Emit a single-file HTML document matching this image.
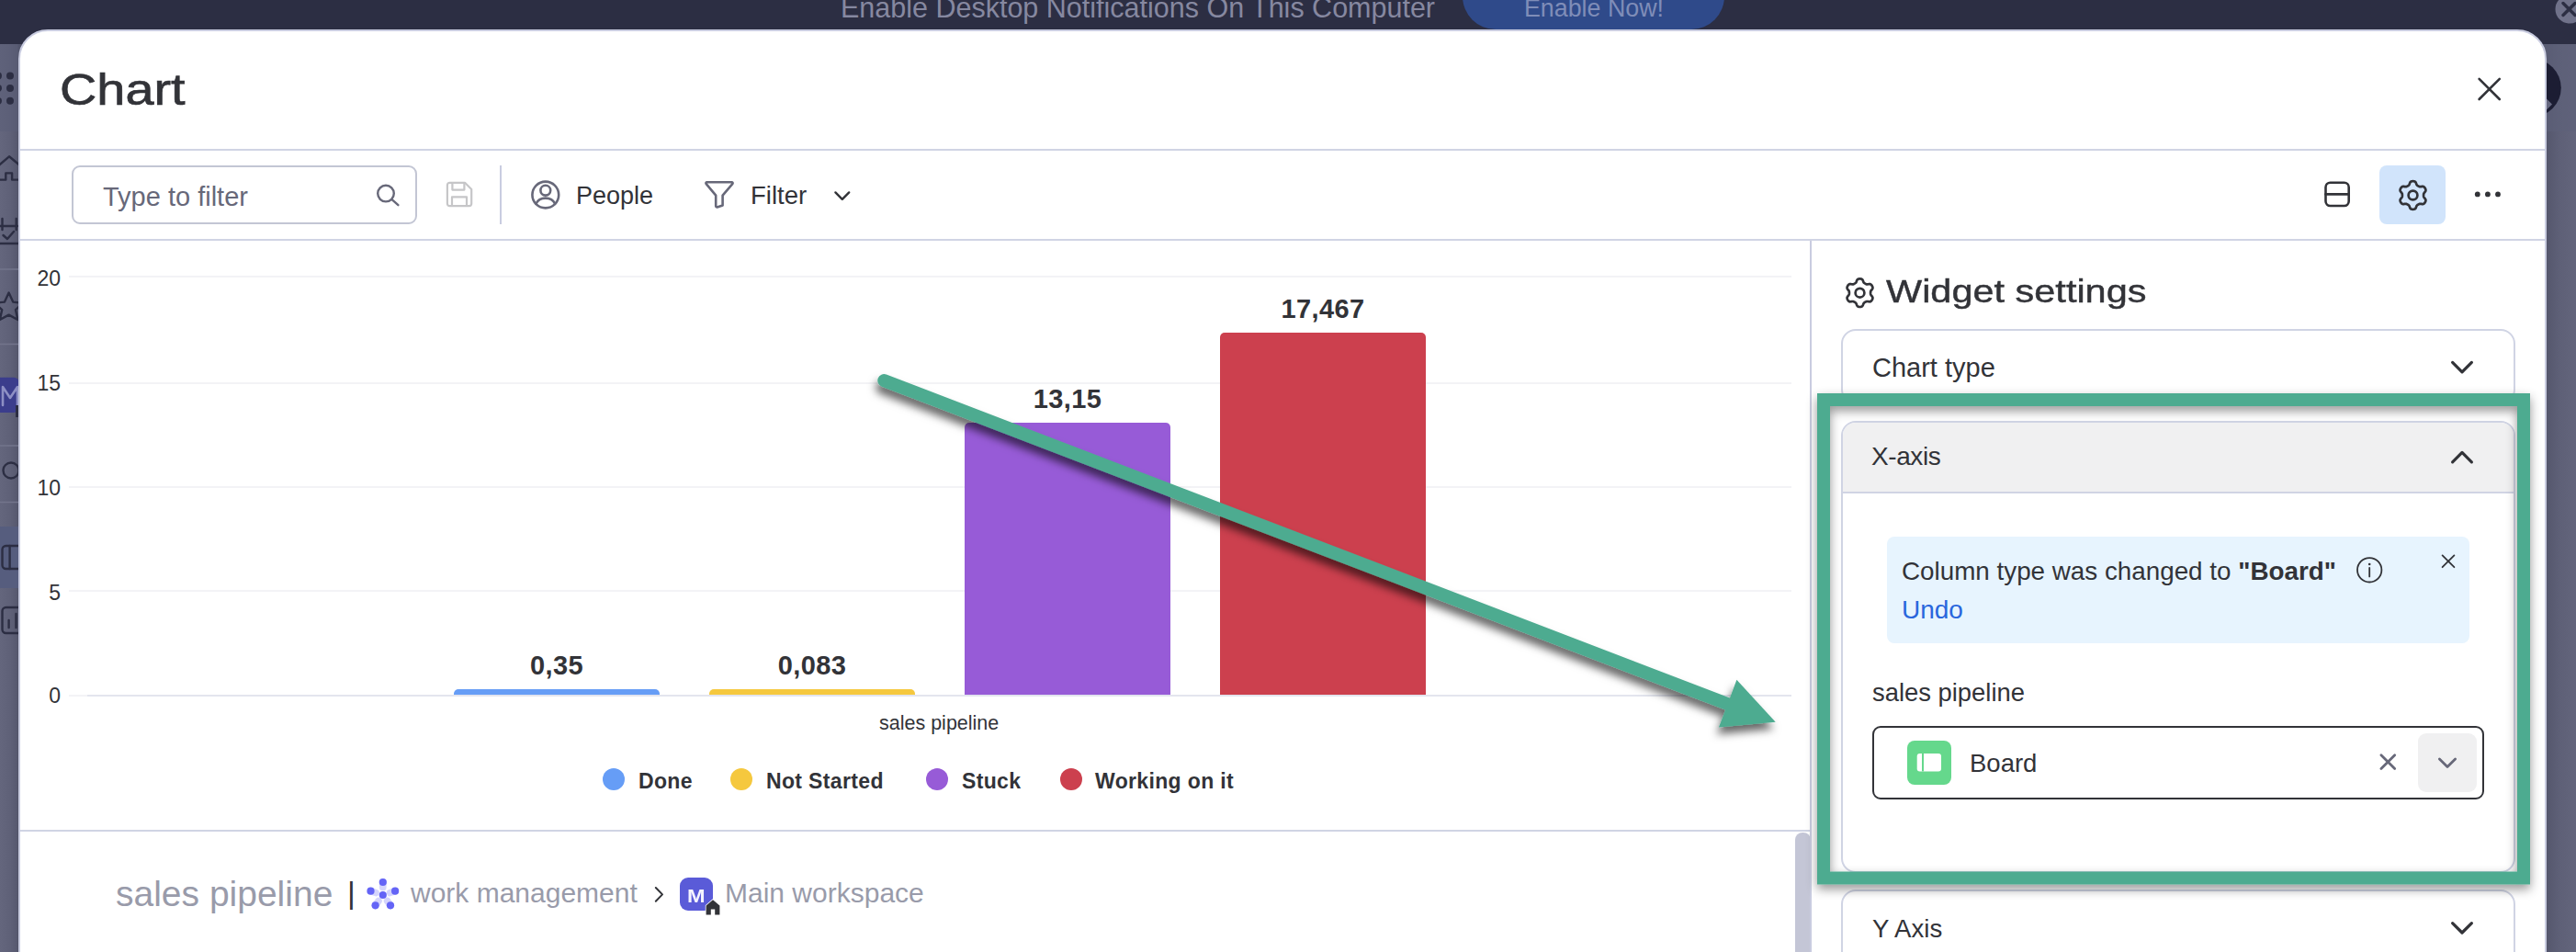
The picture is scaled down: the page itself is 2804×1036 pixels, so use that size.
<!DOCTYPE html>
<html lang="en">
<head>
<meta charset="utf-8">
<title>Chart</title>
<style>
*{box-sizing:border-box;margin:0;padding:0}
html,body{width:2804px;height:1036px;overflow:hidden}
body{position:relative;background:#5f6177;font-family:"Liberation Sans",sans-serif;color:#323338}
.t{position:absolute;white-space:nowrap;line-height:1}
.abs{position:absolute}
svg{position:absolute;overflow:visible}
/* background page (dimmed) */
#bgside-l{left:0;top:48px;width:24px;height:988px;background:linear-gradient(90deg,#64667d 0%,#5f6178 45%,#56586e 80%,#4a4c61 84%)}
#bgside-r{left:2768px;top:48px;width:36px;height:988px;background:linear-gradient(90deg,#55576d 0%,#55576d 11%,#5e6077 50%,#63657c 100%)}
#topbar{left:0;top:0;width:2804px;height:48px;background:#2c2e43}
#enablebtn{left:1592px;top:-40px;width:285px;height:72px;border-radius:36px;background:#2f4a8a}
/* modal */
#modal{left:20px;top:32px;width:2752px;height:1040px;background:#fff;border:2px solid #c9cce0;border-radius:32px 32px 0 0}
.hl{position:absolute;background:#d0d4e4}
.card{position:absolute;border:2px solid #d0d4e4;border-radius:16px;background:#fff}

.yl{left:24px;width:42px;text-align:right;font-size:23px;color:#323338}
.gl{position:absolute;left:75px;width:1875px;height:2px;background:#f3f3f6}
.bar{position:absolute;width:224px;border-radius:5px 5px 0 0}
.bl{width:224px;text-align:center;font-size:29px;letter-spacing:0.4px;font-weight:bold;color:#323338}
.dot{position:absolute;top:835.8px;width:24px;height:24px;border-radius:50%}
.lg{top:839.4px;font-size:23px;letter-spacing:0.35px;font-weight:bold;color:#323338}
</style>
</head>
<body>
<!-- dimmed page behind modal -->
<div class="abs" id="bgside-l"></div>
<div class="abs" id="bgside-r"></div>
<div class="abs" id="topbar"></div>
<div class="t" style="left:915px;top:-7px;font-size:30.5px;color:#8688a0">Enable Desktop Notifications On This Computer</div>
<div class="abs" id="enablebtn"></div>
<div class="t" style="left:1659px;top:-4px;font-size:26.8px;color:#7f8db8">Enable Now!</div>


<svg width="24" height="1036" style="left:0;top:0;overflow:hidden" fill="none" stroke="#2c2e43" stroke-width="2.4" stroke-linecap="round" stroke-linejoin="round">
  <defs><linearGradient id="lsh" x1="0" x2="1" y1="0" y2="0"><stop offset="0" stop-color="#4c4e64" stop-opacity="0"/><stop offset="0.5" stop-color="#4c4e64" stop-opacity="0.25"/><stop offset="1" stop-color="#45475c" stop-opacity="0.85"/></linearGradient></defs>
  <rect x="0" y="48" width="24" height="95" fill="#5a5d78" fill-opacity="0.5" stroke="none"/>
  <rect x="0" y="573" width="24" height="67" fill="#565d7e" stroke="none"/>
  <g stroke="#73758c" stroke-width="1.5"><path d="M0 293H24M0 374.6H24M0 485H24M0 546.5H24"/></g>
  <g fill="#2c2e43" stroke="none"><circle cx="11" cy="82.5" r="4"/><circle cx="11" cy="96" r="4"/><circle cx="11" cy="109.8" r="4"/><circle cx="-2" cy="82.5" r="4"/><circle cx="-2" cy="96" r="4"/><circle cx="-2" cy="109.8" r="4"/></g>
  <path d="M-1 179.7 L10 170.3 L22 180.2 M-1 195.6 H6.3 V188.4 H13.1 V195.6 H22"/>
  <path d="M-1 246 H19 M2.5 238 V250 M17.7 238 V250 M3.5 256 L8 260 L15 252 M-1 265 H22"/>
  <path d="M9.6 318.5 L14.2 328.6 L25 329.8 L17 337.2 L19.4 348 L9.6 342.6 L-0.2 348 L2.2 337.2 L-5.8 329.8 L5 328.6 Z"/>
  <rect x="-8" y="410.7" width="29" height="38.3" rx="6" fill="#3b3d8c" stroke="none"/>
  <path d="M3 441 V421 L11 433 L19 421 V441" stroke="#8d8fc4" stroke-width="2.6"/>
  <rect x="17" y="441" width="6" height="13" fill="#2c2e43" stroke="none"/>
  <circle cx="12" cy="512" r="8.5"/>
  <rect x="2.5" y="594" width="30" height="25" rx="4"/><path d="M10.6 594 V619"/>
  <rect x="2.5" y="661" width="30" height="28" rx="4"/><path d="M9.6 675 V683 M17.5 668 V683"/>
</svg>
<svg width="36" height="1036" style="left:2768px;top:0;overflow:hidden" fill="none">
  <rect x="0" y="48" width="36" height="95" fill="#5d6079" fill-opacity="0.6"/>
  <circle cx="-11.9" cy="95.6" r="31.7" fill="#1c1d33"/><path d="M3 106.5 L10 113.5 L3 120.5 Z" fill="#666880"/>
  <circle cx="29" cy="10" r="15.5" fill="#70728a"/>
  <path d="M22 3.5 L35 16.5 M35 3.5 L22 16.5" stroke="#2c2e43" stroke-width="3.4" stroke-linecap="round"/>
</svg>

<!-- modal -->
<div class="abs" id="modal"></div>

<!-- header -->
<div class="t" id="title" style="left:64.5px;top:73px;font-size:49px;transform-origin:0 0;transform:scaleX(1.14);-webkit-text-stroke:0.7px #323338;color:#323338">Chart</div>
<div class="hl" style="left:22px;top:162px;width:2748px;height:2px"></div>
<div class="hl" style="left:22px;top:260px;width:2748px;height:2px"></div>

<!-- toolbar -->
<div class="abs" style="left:78px;top:180px;width:376px;height:64px;border:2px solid #c3c6d4;border-radius:9px"></div>
<div class="t" id="ph" style="left:112px;top:199.6px;font-size:29px;color:#676879">Type to filter</div>
<div class="abs" style="left:544px;top:180px;width:2px;height:64px;background:#c9cce0"></div>
<div class="t" id="people" style="left:627px;top:200px;font-size:27px">People</div>
<div class="t" id="filter" style="left:817px;top:199px;font-size:27.5px">Filter</div>


<!-- chart -->
<div class="t yl" style="top:292px">20</div>
<div class="t yl" style="top:406px">15</div>
<div class="t yl" style="top:520px">10</div>
<div class="t yl" style="top:634px">5</div>
<div class="t yl" style="top:746px">0</div>
<div class="gl" style="top:300px"></div>
<div class="gl" style="top:416px"></div>
<div class="gl" style="top:529px"></div>
<div class="gl" style="top:642px"></div>
<div class="gl" style="top:756px"></div>
<div class="abs" style="left:95px;top:756px;width:1855px;height:2px;background:#e3e5ee"></div>

<div class="bar" style="left:494px;top:750px;height:6px;background:#669df6"></div>
<div class="bar" style="left:772px;top:750px;height:6px;background:#f5c83e"></div>
<div class="bar" style="left:1050px;top:460px;height:296px;background:#975bd7"></div>
<div class="bar" style="left:1328px;top:362px;height:394px;background:#cc404e"></div>

<div class="t bl" id="b1" style="left:494px;top:709.7px">0,35</div>
<div class="t bl" id="b2" style="left:772px;top:709.7px">0,083</div>
<div class="t bl" id="b3" style="left:1050px;top:420px">13,15</div>
<div class="t bl" id="b4" style="left:1328px;top:321.8px">17,467</div>

<div class="t" id="xl" style="left:957px;top:777px;font-size:21.5px">sales pipeline</div>

<div class="dot" style="left:656px;background:#669df6"></div>
<div class="t lg" id="l1" style="left:695px">Done</div>
<div class="dot" style="left:795px;background:#f5c83e"></div>
<div class="t lg" id="l2" style="left:834px">Not Started</div>
<div class="dot" style="left:1008px;background:#975bd7"></div>
<div class="t lg" id="l3" style="left:1047px">Stuck</div>
<div class="dot" style="left:1154px;background:#cc404e"></div>
<div class="t lg" id="l4" style="left:1192px">Working on it</div>

<!-- lower section -->
<div class="hl" style="left:22px;top:903px;width:1948px;height:2px"></div>
<div class="abs" style="left:1954px;top:905.5px;width:16.5px;height:140px;border-radius:8px 8px 0 0;background:#c4c6d6"></div>
<div class="t" id="sp2" style="left:126px;top:953px;font-size:39px;color:#999baa">sales pipeline</div>
<div class="t" style="left:378px;top:954px;font-size:34px;color:#323338">|</div>
<div class="t" id="wm" style="left:447px;top:957px;font-size:30px;color:#999baa">work management</div>
<div class="abs" style="left:740px;top:955px;width:36px;height:36px;border-radius:9px;background:#5a5bd8"></div>
<div class="t" id="mm" style="left:748.4px;top:964px;font-size:21px;font-weight:bold;color:#f4f4ff;transform-origin:0 0;transform:scaleX(1.12)">M</div>
<div class="t" id="mw" style="left:789px;top:957px;font-size:30px;color:#999baa">Main workspace</div>

<!-- right panel -->
<div class="abs" style="left:1970px;top:262px;width:2px;height:780px;background:#c9cce0"></div>
<div class="t" id="ws" style="left:2053px;top:300px;font-size:35.5px;transform-origin:0 0;transform:scaleX(1.168);-webkit-text-stroke:0.45px #323338">Widget settings</div>

<div class="card" style="left:2004px;top:358px;width:734px;height:82px"></div>
<div class="t" id="ct" style="left:2038px;top:385.6px;font-size:29px">Chart type</div>

<div class="card" style="left:2004px;top:458px;width:734px;height:492px;overflow:hidden">
  <div class="abs" style="left:0;top:0;width:731px;height:77px;background:#f0f0f1;border-bottom:2px solid #d0d4e4"></div>
</div>
<div class="t" id="xa" style="left:2037px;top:483.4px;font-size:28px;letter-spacing:-0.4px">X-axis</div>

<div class="abs" style="left:2054px;top:584px;width:634px;height:116px;border-radius:8px;background:#e7f4fe"></div>
<div class="t" id="al" style="left:2070px;top:608px;font-size:27.8px">Column type was changed to <b>"Board"</b></div>
<div class="t" id="undo" style="left:2070px;top:650px;font-size:28px;color:#2a67dd">Undo</div>

<div class="t" id="sp" style="left:2038px;top:740px;font-size:27.4px">sales pipeline</div>
<div class="abs" style="left:2038px;top:790px;width:666px;height:80px;border:2px solid #323338;border-radius:9px"></div>
<div class="abs" style="left:2076px;top:806px;width:48px;height:48px;border-radius:8px;background:#65d88c"></div>
<div class="t" id="board" style="left:2144px;top:817px;font-size:27.5px">Board</div>
<div class="abs" style="left:2632px;top:798px;width:64px;height:64px;border-radius:9px;background:#f0f0f1"></div>

<div class="card" style="left:2004px;top:968px;width:734px;height:120px"></div>
<div class="t" id="ya" style="left:2038px;top:996.5px;font-size:27.6px">Y Axis</div>


<!-- icons -->
<svg width="2804" height="1036" style="left:0;top:0" fill="none" stroke-linecap="round" stroke-linejoin="round">
  <defs>
        <filter id="sh" filterUnits="userSpaceOnUse" x="900" y="350" width="1904" height="686"><feDropShadow dx="-2" dy="7.5" stdDeviation="5" flood-color="#000" flood-opacity="0.6"/></filter>
    <filter id="sh2" filterUnits="userSpaceOnUse" x="1940" y="390" width="864" height="646"><feDropShadow dx="0" dy="5" stdDeviation="6" flood-color="#000" flood-opacity="0.42"/></filter>
  </defs>
  <!-- search -->
  <g stroke="#676879" stroke-width="2.4"><circle cx="420" cy="210.6" r="8.8"/><path d="M426.6 217.2 L433.4 223.2"/></g>
  <!-- save (disabled) -->
  <g stroke="#c6c6c8" stroke-width="2.2"><path d="M489.5 198.8 H506 L513.2 206 V221.6 a2.6 2.6 0 0 1 -2.6 2.6 H489.5 a2.6 2.6 0 0 1 -2.6 -2.6 V201.4 a2.6 2.6 0 0 1 2.6 -2.6 Z"/><path d="M492.4 199 V206.6 H505.4 V199"/><path d="M492 224 V214.4 H508 V224"/></g>
  <!-- person -->
  <g stroke="#676879" stroke-width="2.6"><circle cx="593.8" cy="212" r="14.4"/><circle cx="593.8" cy="207.2" r="5.4"/><path d="M583.4 221.8 C585.6 217.2 589.4 215.6 593.8 215.6 C598.2 215.6 602 217.2 604.2 221.8"/></g>
  <!-- funnel -->
  <path stroke="#676879" stroke-width="2.6" d="M769.6 198.2 H796.4 a1.2 1.2 0 0 1 0.9 2 L786.6 212.6 V223.4 L780.6 225.4 a1.2 1.2 0 0 1 -1.4 -1.2 V212.6 L768.7 200.2 a1.2 1.2 0 0 1 0.9 -2 Z"/>
  <!-- filter chevron -->
  <path stroke="#323338" stroke-width="2.4" d="M909.4 209.4 L916.8 216.8 L924.2 209.4"/>
  <!-- split view -->
  <g stroke="#323338" stroke-width="2.6"><rect x="2531.5" y="198.8" width="25.2" height="25.2" rx="5"/><path d="M2531.5 211.4 H2556.7"/></g>
  <!-- gear button -->
  <rect x="2590" y="180" width="72" height="64" rx="8" fill="#d1e4fb" stroke="none"/>
  <g stroke="#323338" stroke-width="2.7"><path transform="translate(2626.5 212.5)" d="M11.60 0.00 L11.60 -0.41 L11.62 -0.81 L11.66 -1.23 L11.75 -1.65 L11.93 -2.10 L12.26 -2.61 L12.73 -3.17 L13.25 -3.80 L13.67 -4.44 L13.89 -5.06 L13.94 -5.63 L13.86 -6.17 L13.71 -6.69 L13.50 -7.18 L13.25 -7.65 L12.97 -8.10 L12.64 -8.53 L12.28 -8.92 L11.85 -9.26 L11.32 -9.50 L10.68 -9.61 L9.91 -9.57 L9.11 -9.44 L8.39 -9.31 L7.79 -9.28 L7.30 -9.35 L6.89 -9.48 L6.51 -9.66 L6.15 -9.85 L5.80 -10.05 L5.45 -10.25 L5.11 -10.47 L4.77 -10.71 L4.44 -11.00 L4.14 -11.39 L3.87 -11.92 L3.62 -12.61 L3.33 -13.37 L2.99 -14.05 L2.57 -14.56 L2.09 -14.89 L1.59 -15.09 L1.06 -15.22 L0.53 -15.28 L0.00 -15.30 L-0.53 -15.28 L-1.06 -15.22 L-1.59 -15.09 L-2.09 -14.89 L-2.57 -14.56 L-2.99 -14.05 L-3.33 -13.37 L-3.62 -12.61 L-3.87 -11.92 L-4.14 -11.39 L-4.44 -11.00 L-4.77 -10.71 L-5.11 -10.47 L-5.45 -10.25 L-5.80 -10.05 L-6.15 -9.85 L-6.51 -9.66 L-6.89 -9.48 L-7.30 -9.35 L-7.79 -9.28 L-8.39 -9.31 L-9.11 -9.44 L-9.91 -9.57 L-10.68 -9.61 L-11.32 -9.50 L-11.85 -9.26 L-12.28 -8.92 L-12.64 -8.53 L-12.97 -8.10 L-13.25 -7.65 L-13.50 -7.18 L-13.71 -6.69 L-13.86 -6.17 L-13.94 -5.63 L-13.89 -5.06 L-13.67 -4.44 L-13.25 -3.80 L-12.73 -3.17 L-12.26 -2.61 L-11.93 -2.10 L-11.75 -1.65 L-11.66 -1.23 L-11.62 -0.81 L-11.60 -0.41 L-11.60 -0.00 L-11.60 0.41 L-11.62 0.81 L-11.66 1.23 L-11.75 1.65 L-11.93 2.10 L-12.26 2.61 L-12.73 3.17 L-13.25 3.80 L-13.67 4.44 L-13.89 5.06 L-13.94 5.63 L-13.86 6.17 L-13.71 6.69 L-13.50 7.18 L-13.25 7.65 L-12.97 8.10 L-12.64 8.53 L-12.28 8.92 L-11.85 9.26 L-11.32 9.50 L-10.68 9.61 L-9.91 9.57 L-9.11 9.44 L-8.39 9.31 L-7.79 9.28 L-7.30 9.35 L-6.89 9.48 L-6.51 9.66 L-6.15 9.85 L-5.80 10.05 L-5.45 10.25 L-5.11 10.47 L-4.77 10.71 L-4.44 11.00 L-4.14 11.39 L-3.87 11.92 L-3.62 12.61 L-3.33 13.37 L-2.99 14.05 L-2.57 14.56 L-2.09 14.89 L-1.59 15.09 L-1.06 15.22 L-0.53 15.28 L-0.00 15.30 L0.53 15.28 L1.06 15.22 L1.59 15.09 L2.09 14.89 L2.57 14.56 L2.99 14.05 L3.33 13.37 L3.62 12.61 L3.87 11.92 L4.14 11.39 L4.44 11.00 L4.77 10.71 L5.11 10.47 L5.45 10.25 L5.80 10.05 L6.15 9.85 L6.51 9.66 L6.89 9.48 L7.30 9.35 L7.79 9.28 L8.39 9.31 L9.11 9.44 L9.91 9.57 L10.68 9.61 L11.32 9.50 L11.85 9.26 L12.28 8.92 L12.64 8.53 L12.97 8.10 L13.25 7.65 L13.50 7.18 L13.71 6.69 L13.86 6.17 L13.94 5.63 L13.89 5.06 L13.67 4.44 L13.25 3.80 L12.73 3.17 L12.26 2.61 L11.93 2.10 L11.75 1.65 L11.66 1.23 L11.62 0.81 L11.60 0.41Z"/><circle cx="2626.5" cy="212.5" r="4.9"/></g>
  <!-- more dots -->
  <g fill="#323338" stroke="none"><circle cx="2696.8" cy="211.4" r="2.9"/><circle cx="2707.9" cy="211.4" r="2.9"/><circle cx="2719" cy="211.4" r="2.9"/></g>
  <!-- modal close -->
  <path stroke="#323338" stroke-width="2.6" d="M2698.6 85.8 L2720.8 108 M2720.8 85.8 L2698.6 108"/>
  <!-- widget settings gear -->
  <g stroke="#323338" stroke-width="2.7"><path transform="translate(2024.5 318.7)" d="M11.60 0.00 L11.60 -0.41 L11.62 -0.81 L11.66 -1.23 L11.75 -1.65 L11.93 -2.10 L12.26 -2.61 L12.73 -3.17 L13.25 -3.80 L13.67 -4.44 L13.89 -5.06 L13.94 -5.63 L13.86 -6.17 L13.71 -6.69 L13.50 -7.18 L13.25 -7.65 L12.97 -8.10 L12.64 -8.53 L12.28 -8.92 L11.85 -9.26 L11.32 -9.50 L10.68 -9.61 L9.91 -9.57 L9.11 -9.44 L8.39 -9.31 L7.79 -9.28 L7.30 -9.35 L6.89 -9.48 L6.51 -9.66 L6.15 -9.85 L5.80 -10.05 L5.45 -10.25 L5.11 -10.47 L4.77 -10.71 L4.44 -11.00 L4.14 -11.39 L3.87 -11.92 L3.62 -12.61 L3.33 -13.37 L2.99 -14.05 L2.57 -14.56 L2.09 -14.89 L1.59 -15.09 L1.06 -15.22 L0.53 -15.28 L0.00 -15.30 L-0.53 -15.28 L-1.06 -15.22 L-1.59 -15.09 L-2.09 -14.89 L-2.57 -14.56 L-2.99 -14.05 L-3.33 -13.37 L-3.62 -12.61 L-3.87 -11.92 L-4.14 -11.39 L-4.44 -11.00 L-4.77 -10.71 L-5.11 -10.47 L-5.45 -10.25 L-5.80 -10.05 L-6.15 -9.85 L-6.51 -9.66 L-6.89 -9.48 L-7.30 -9.35 L-7.79 -9.28 L-8.39 -9.31 L-9.11 -9.44 L-9.91 -9.57 L-10.68 -9.61 L-11.32 -9.50 L-11.85 -9.26 L-12.28 -8.92 L-12.64 -8.53 L-12.97 -8.10 L-13.25 -7.65 L-13.50 -7.18 L-13.71 -6.69 L-13.86 -6.17 L-13.94 -5.63 L-13.89 -5.06 L-13.67 -4.44 L-13.25 -3.80 L-12.73 -3.17 L-12.26 -2.61 L-11.93 -2.10 L-11.75 -1.65 L-11.66 -1.23 L-11.62 -0.81 L-11.60 -0.41 L-11.60 -0.00 L-11.60 0.41 L-11.62 0.81 L-11.66 1.23 L-11.75 1.65 L-11.93 2.10 L-12.26 2.61 L-12.73 3.17 L-13.25 3.80 L-13.67 4.44 L-13.89 5.06 L-13.94 5.63 L-13.86 6.17 L-13.71 6.69 L-13.50 7.18 L-13.25 7.65 L-12.97 8.10 L-12.64 8.53 L-12.28 8.92 L-11.85 9.26 L-11.32 9.50 L-10.68 9.61 L-9.91 9.57 L-9.11 9.44 L-8.39 9.31 L-7.79 9.28 L-7.30 9.35 L-6.89 9.48 L-6.51 9.66 L-6.15 9.85 L-5.80 10.05 L-5.45 10.25 L-5.11 10.47 L-4.77 10.71 L-4.44 11.00 L-4.14 11.39 L-3.87 11.92 L-3.62 12.61 L-3.33 13.37 L-2.99 14.05 L-2.57 14.56 L-2.09 14.89 L-1.59 15.09 L-1.06 15.22 L-0.53 15.28 L-0.00 15.30 L0.53 15.28 L1.06 15.22 L1.59 15.09 L2.09 14.89 L2.57 14.56 L2.99 14.05 L3.33 13.37 L3.62 12.61 L3.87 11.92 L4.14 11.39 L4.44 11.00 L4.77 10.71 L5.11 10.47 L5.45 10.25 L5.80 10.05 L6.15 9.85 L6.51 9.66 L6.89 9.48 L7.30 9.35 L7.79 9.28 L8.39 9.31 L9.11 9.44 L9.91 9.57 L10.68 9.61 L11.32 9.50 L11.85 9.26 L12.28 8.92 L12.64 8.53 L12.97 8.10 L13.25 7.65 L13.50 7.18 L13.71 6.69 L13.86 6.17 L13.94 5.63 L13.89 5.06 L13.67 4.44 L13.25 3.80 L12.73 3.17 L12.26 2.61 L11.93 2.10 L11.75 1.65 L11.66 1.23 L11.62 0.81 L11.60 0.41Z"/><circle cx="2024.5" cy="318.7" r="4.9"/></g>
  <!-- accordion chevrons -->
  <g stroke="#323338" stroke-width="3.2"><path d="M2669.6 394.4 L2680 404.8 L2690.4 394.4"/><path d="M2669.6 502.8 L2680 492.4 L2690.4 502.8"/><path d="M2669.6 1004.6 L2680 1015 L2690.4 1004.6"/></g>
  <!-- info -->
  <g stroke="#323338" stroke-width="1.8"><circle cx="2579.2" cy="620.3" r="13.2"/><path d="M2579.2 618 V627.4"/></g>
  <circle cx="2579.2" cy="614" r="1.3" fill="#323338" stroke="none"/>
  <!-- alert close -->
  <path stroke="#323338" stroke-width="1.8" d="M2658.6 604.4 L2671.4 617.2 M2671.4 604.4 L2658.6 617.2"/>
  <!-- board icon glyph -->
  <rect x="2086.7" y="820" width="26.3" height="19.4" rx="3" fill="#fff" stroke="none"/>
  <rect x="2092" y="820" width="2" height="19.4" fill="#65d88c" stroke="none"/>
  <!-- dropdown clear + chevron -->
  <path stroke="#676879" stroke-width="2.8" d="M2591.9 821.7 L2606.7 836.5 M2606.7 821.7 L2591.9 836.5"/>
  <path stroke="#676879" stroke-width="2.8" d="M2655.4 826 L2664 834.4 L2672.6 826"/>
  <!-- breadcrumb chevron -->
  <path stroke="#323338" stroke-width="2" d="M713.8 966 L721 973.4 L713.8 980.8"/>
  <!-- house badge -->
  <path d="M768.6 995.4 V985.6 L776 979.2 L783.4 985.6 V995.4 H778.2 V989.6 H773.8 V995.4 Z" fill="#323338" stroke="#fff" stroke-width="1.6" paint-order="stroke"/>
  <!-- work management logo -->
  <g fill="#6464f6" stroke="none"><circle cx="416.8" cy="974" r="4.1"/><path d="M416.8 960.0 L416.8 965.8" stroke="#6464f6" stroke-opacity="0.28" stroke-width="7.6" stroke-linecap="round"/><circle cx="416.8" cy="960.0" r="4.1"/><path d="M403.5 969.7 L409.0 971.5" stroke="#6464f6" stroke-opacity="0.28" stroke-width="7.6" stroke-linecap="round"/><circle cx="403.5" cy="969.7" r="4.1"/><path d="M408.6 985.3 L412.0 980.6" stroke="#6464f6" stroke-opacity="0.28" stroke-width="7.6" stroke-linecap="round"/><circle cx="408.6" cy="985.3" r="4.1"/><path d="M425.0 985.3 L421.6 980.6" stroke="#6464f6" stroke-opacity="0.28" stroke-width="7.6" stroke-linecap="round"/><circle cx="425.0" cy="985.3" r="4.1"/><path d="M430.1 969.7 L424.6 971.5" stroke="#6464f6" stroke-opacity="0.28" stroke-width="7.6" stroke-linecap="round"/><circle cx="430.1" cy="969.7" r="4.1"/></g>
</svg>

<!-- annotation: green highlight box and arrow -->
<svg width="2804" height="1036" style="left:0;top:0" fill="none">
  <rect x="1985" y="435" width="762" height="520.5" stroke="#4eab90" stroke-width="14" filter="url(#sh2)"/>
  <g filter="url(#sh)">
    <path d="M962.3 414.1 L1885 767.8" stroke="#4eab90" stroke-width="14" stroke-linecap="round"/>
    <path d="M1890.4 739.8 L1932.7 785.8 L1870.9 791.6 Z" fill="#4eab90"/>
  </g>
</svg>
</body>
</html>
